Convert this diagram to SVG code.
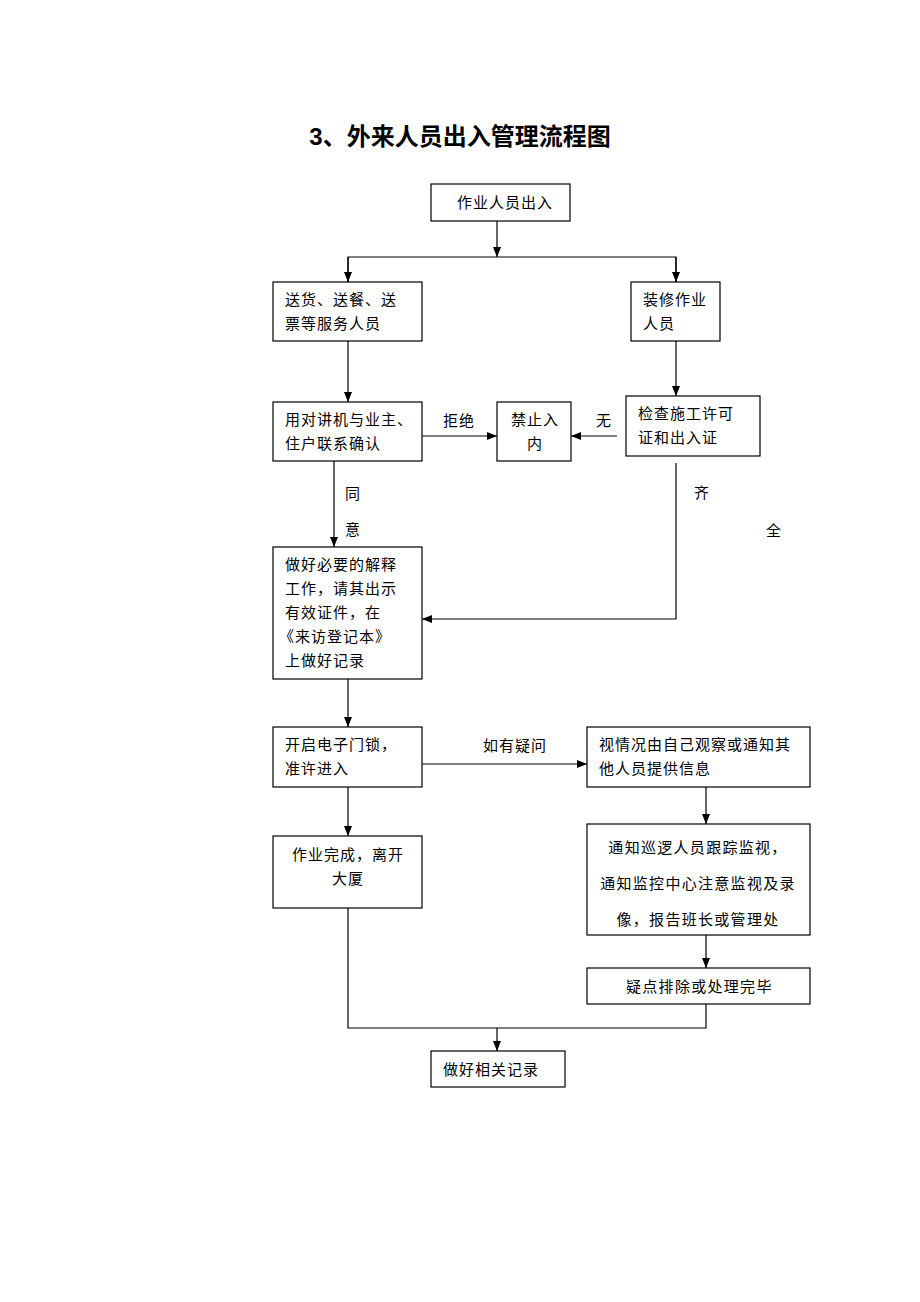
<svg xmlns="http://www.w3.org/2000/svg" width="920" height="1302" viewBox="0 0 920 1302">
<style>
.b{fill:#fff;stroke:#000;stroke-width:1.2}
.t{font-family:"Liberation Serif","Noto Sans CJK SC",serif;font-size:15px;letter-spacing:1px;fill:#000}
.t16{font-family:"Liberation Serif","Noto Sans CJK SC",serif;font-size:15px;letter-spacing:1.3px;fill:#000}
.c{fill:none;stroke:#000;stroke-width:1.2}
.ttl{font-family:"Liberation Sans","Noto Sans CJK SC",sans-serif;font-size:24px;font-weight:bold;fill:#000}
</style>
<defs>
<marker id="a" viewBox="0 0 10 10" refX="10" refY="5" markerWidth="10" markerHeight="10" markerUnits="userSpaceOnUse" orient="auto">
<path d="M0,1 L10,5 L0,9 Z" fill="#000"/>
</marker>
</defs>
<rect width="920" height="1302" fill="#fff"/>
<text class="ttl" x="460" y="145" text-anchor="middle">3、外来人员出入管理流程图</text>

<g id="connectors">
<line class="c" x1="497" y1="221" x2="497" y2="257" marker-end="url(#a)"/>
<polyline class="c" points="348,282 348,257 676,257 676,282"/>
<line class="c" x1="348" y1="257" x2="348" y2="282" marker-end="url(#a)"/>
<line class="c" x1="676" y1="257" x2="676" y2="282" marker-end="url(#a)"/>
<line class="c" x1="348" y1="341" x2="348" y2="402" marker-end="url(#a)"/>
<line class="c" x1="676" y1="341" x2="676" y2="396" marker-end="url(#a)"/>
<line class="c" x1="422" y1="436" x2="497" y2="436" marker-end="url(#a)"/>
<line class="c" x1="617" y1="436" x2="571" y2="436" marker-end="url(#a)"/>
<line class="c" x1="334" y1="461" x2="334" y2="547" marker-end="url(#a)"/>
<polyline class="c" points="676,463 676,619 422,619" marker-end="url(#a)"/>
<line class="c" x1="348" y1="679" x2="348" y2="727" marker-end="url(#a)"/>
<line class="c" x1="422" y1="764" x2="587" y2="764" marker-end="url(#a)"/>
<line class="c" x1="348" y1="787" x2="348" y2="836" marker-end="url(#a)"/>
<line class="c" x1="706" y1="787" x2="706" y2="824" marker-end="url(#a)"/>
<line class="c" x1="706" y1="935" x2="706" y2="968" marker-end="url(#a)"/>
<polyline class="c" points="348,908 348,1028 706,1028 706,1004"/>
<line class="c" x1="497" y1="1028" x2="497" y2="1051" marker-end="url(#a)"/>
<text class="t" x="443" y="426">拒绝</text>
<text class="t" x="596" y="426">无</text>
<text class="t" x="345" y="499">同</text>
<text class="t" x="345" y="535">意</text>
<text class="t" x="694" y="498">齐</text>
<text class="t" x="766" y="536">全</text>
<text class="t" x="483" y="751">如有疑问</text>
</g>

<g id="n1"><rect class="b" x="431" y="184" width="139" height="37"/><text class="t" x="457" y="208">作业人员出入</text></g>
<g id="n2"><rect class="b" x="273" y="282" width="149" height="59"/><text class="t" x="285" y="305">送货、送餐、送</text><text class="t" x="285" y="329">票等服务人员</text></g>
<g id="n3"><rect class="b" x="631" y="282" width="89" height="59"/><text class="t" x="643" y="305">装修作业</text><text class="t" x="643" y="329">人员</text></g>
<g id="n4"><rect class="b" x="273" y="402" width="149" height="59"/><text class="t" x="285" y="425">用对讲机与业主、</text><text class="t" x="285" y="449">住户联系确认</text></g>
<g id="n5"><rect class="b" x="497" y="402" width="74" height="59"/><text class="t" x="511" y="425">禁止入</text><text class="t" x="527" y="449">内</text></g>
<g id="n6"><rect class="b" x="626" y="396" width="134" height="60"/><text class="t" x="638" y="419">检查施工许可</text><text class="t" x="638" y="443">证和出入证</text></g>
<g id="n7"><rect class="b" x="273" y="547" width="149" height="132"/>
<text class="t" x="285" y="570">做好必要的解释</text>
<text class="t" x="285" y="594">工作，请其出示</text>
<text class="t" x="285" y="618">有效证件，在</text>
<text class="t" x="279" y="642">《来访登记本》</text>
<text class="t" x="285" y="666">上做好记录</text></g>
<g id="n8"><rect class="b" x="273" y="727" width="149" height="60"/><text class="t" x="285" y="750">开启电子门锁，</text><text class="t" x="285" y="774">准许进入</text></g>
<g id="n9"><rect class="b" x="587" y="727" width="223" height="60"/><text class="t" x="599" y="750">视情况由自己观察或通知其</text><text class="t" x="599" y="774">他人员提供信息</text></g>
<g id="n10"><rect class="b" x="273" y="836" width="149" height="72"/><text class="t" x="348" y="860" text-anchor="middle">作业完成，离开</text><text class="t" x="348" y="884" text-anchor="middle">大厦</text></g>
<g id="n11"><rect class="b" x="587" y="824" width="223" height="111"/>
<text class="t16" x="698" y="853" text-anchor="middle">通知巡逻人员跟踪监视，</text>
<text class="t16" x="698" y="889" text-anchor="middle">通知监控中心注意监视及录</text>
<text class="t16" x="698" y="925" text-anchor="middle">像，报告班长或管理处</text></g>
<g id="n12"><rect class="b" x="587" y="968" width="223" height="36"/><text class="t16" x="626" y="992">疑点排除或处理完毕</text></g>
<g id="n13"><rect class="b" x="431" y="1051" width="134" height="36"/><text class="t" x="443" y="1075">做好相关记录</text></g>
</svg>
